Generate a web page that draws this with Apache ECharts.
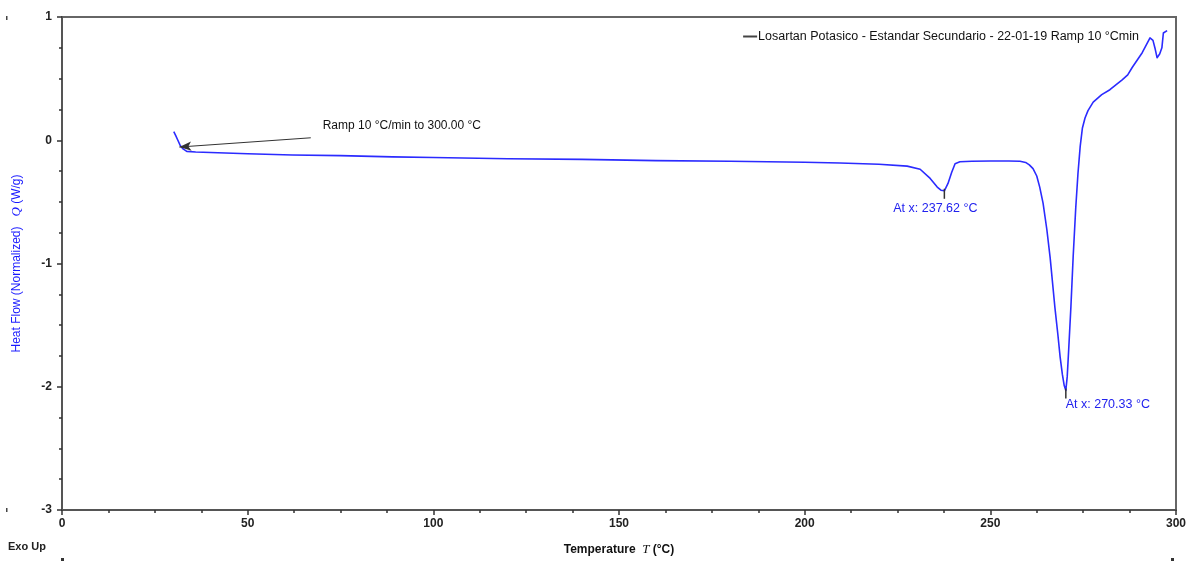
<!DOCTYPE html>
<html><head><meta charset="utf-8">
<script src="https://cdn.jsdelivr.net/npm/echarts@6/dist/echarts.min.js"></script>
<style>html,body{margin:0;padding:0;background:#fff}#c{width:1190px;height:563px}</style>
</head><body><div id="c"></div>
<script>
var seriesName = 'Losartan Potasico - Estandar Secundario - 22-01-19 Ramp 10 °Cmin';
var temperature = [30.1,30.6,31.2,31.8,32.6,33.6,36,40,50,62,75,89,100,120,140,160,180,200,209.5,220,227.6,231.1,233.8,235.7,236.7,237.62,238.6,239.6,240.5,241.8,245,250,255,258,259.5,260.5,261.5,262.5,263.3,264.2,265.2,266.1,267.4,268.2,268.8,269.4,269.9,270.33,270.7,271.1,271.7,272.3,273,273.6,274.2,274.8,275.5,276.3,277.7,280,282.2,285.5,287,288.2,290.9,293,293.8,294.4,294.9,295.6,296.2,296.6,297.6];
var heatFlow = [0.07,0.04,0.0,-0.04,-0.07,-0.09,-0.095,-0.10,-0.11,-0.12,-0.125,-0.135,-0.14,-0.15,-0.155,-0.165,-0.17,-0.178,-0.185,-0.195,-0.21,-0.235,-0.31,-0.38,-0.405,-0.41,-0.35,-0.26,-0.19,-0.175,-0.17,-0.168,-0.168,-0.17,-0.18,-0.20,-0.23,-0.29,-0.38,-0.51,-0.72,-0.95,-1.36,-1.58,-1.76,-1.90,-1.99,-2.03,-1.92,-1.70,-1.35,-0.95,-0.55,-0.27,-0.05,0.10,0.18,0.24,0.31,0.37,0.41,0.49,0.53,0.59,0.71,0.83,0.81,0.74,0.67,0.70,0.75,0.87,0.89];
var peaks = [[237.62,-0.41],[270.33,-2.03]];
var peakLabels = ['At x: 237.62 °C','At x: 270.33 °C'];
var rampText = 'Ramp 10 °C/min to 300.00 °C';
var rampArrow = [[67,0.02],[31.6,-0.055]];
var xTicks = {min:0,max:300,interval:50};
var yTicks = {min:-3,max:1,interval:1};

var data = temperature.map(function(t,i){return [t,heatFlow[i]];});
var chart = echarts.init(document.getElementById('c'));
var FF = 'Liberation Sans, Arial, sans-serif';
var lbl = {fontFamily:FF,fontSize:12,color:'#222',fontWeight:'bold'};
chart.setOption({
  animation:false,
  backgroundColor:'#fff',
  grid:{left:62,right:14,top:17,bottom:53,show:true,borderColor:'#666',borderWidth:2,backgroundColor:'#fff'},
  legend:{
    data:[{name:seriesName,itemStyle:{color:'#444'},lineStyle:{color:'#444',width:2}}],
    right:46,top:25,icon:'rect',itemWidth:14,itemHeight:2,itemGap:2,
    textStyle:{fontFamily:FF,fontSize:12.5,color:'#111',padding:[0,0,0,-4]}
  },
  xAxis:{type:'value',min:xTicks.min,max:xTicks.max,interval:xTicks.interval,
    axisLine:{onZero:false,lineStyle:{color:'#555',width:2}},
    axisTick:{inside:false,length:5,lineStyle:{color:'#333',width:1.5}},
    minorTick:{show:true,splitNumber:4,length:3,lineStyle:{color:'#333',width:1.5}},
    splitLine:{show:false},
    axisLabel:Object.assign({margin:8},lbl),
    name:'{a|Temperature  }{i|T}{a| (°C)}',nameLocation:'middle',nameGap:33,
    nameTextStyle:{rich:{a:{fontFamily:FF,fontSize:12,color:'#111',fontWeight:'bold'},i:{fontFamily:'Liberation Serif, serif',fontSize:13,color:'#111',fontStyle:'italic'}}}
  },
  yAxis:{type:'value',min:yTicks.min,max:yTicks.max,interval:yTicks.interval,
    axisLine:{onZero:false,lineStyle:{color:'#555',width:2}},
    axisTick:{inside:false,length:5,lineStyle:{color:'#333',width:1.5}},
    minorTick:{show:true,splitNumber:4,length:3,lineStyle:{color:'#333',width:1.5}},
    splitLine:{show:false},
    axisLabel:Object.assign({margin:10},lbl),
    name:'{a|Heat Flow (Normalized)   }{i|Q}{a| (W/g)}',nameLocation:'middle',nameRotate:90,nameGap:39,
    nameTextStyle:{rich:{a:{fontFamily:FF,fontSize:12,color:'#1a1aff'},i:{fontFamily:'Liberation Serif, serif',fontSize:13,color:'#1a1aff',fontStyle:'italic'}}}
  },
  series:[{
    name:seriesName,type:'line',data:data,showSymbol:false,smooth:false,
    lineStyle:{color:'#2b2bff',width:1.6,join:'round'},itemStyle:{color:'#2b2bff'},
    markPoint:{
      silent:true,
      data:[
        {coord:peaks[0],symbol:'rect',symbolSize:[1.5,10],symbolOffset:[0,3],itemStyle:{color:'#333'},
          label:{show:true,position:'bottom',distance:3,offset:[-9,0],formatter:peakLabels[0],color:'#2222ee',fontFamily:FF,fontSize:12.5}},
        {coord:peaks[1],symbol:'rect',symbolSize:[1.5,10],symbolOffset:[0,3],itemStyle:{color:'#333'},
          label:{show:true,position:'bottom',distance:0,offset:[42,0],formatter:peakLabels[1],color:'#2222ee',fontFamily:FF,fontSize:12.5}},
        {coord:[rampArrow[0][0]+3.2,rampArrow[0][1]+0.1],symbol:'circle',symbolSize:0,
          label:{show:true,position:'right',distance:0,formatter:rampText,color:'#111',fontFamily:FF,fontSize:12}}
      ]
    },
    markLine:{
      silent:true,symbol:['none','arrow'],symbolSize:[7,12],
      lineStyle:{color:'#333',width:1,type:'solid'},label:{show:false},
      data:[[{coord:rampArrow[0]},{coord:rampArrow[1]}]]
    }
  }],
  graphic:[
    {type:'text',left:8,top:541,style:{text:'Exo Up',font:'bold 11px Liberation Sans, Arial, sans-serif',fill:'#222'}},
    {type:'rect',left:61,top:558,shape:{width:3,height:3},style:{fill:'#333'}},
    {type:'rect',left:1171,top:558,shape:{width:3,height:3},style:{fill:'#333'}},
    {type:'rect',left:6,top:16,shape:{width:1.5,height:4},style:{fill:'#444'}},
    {type:'rect',left:6,top:508,shape:{width:1.5,height:4},style:{fill:'#444'}}
  ]
});
</script></body></html>
